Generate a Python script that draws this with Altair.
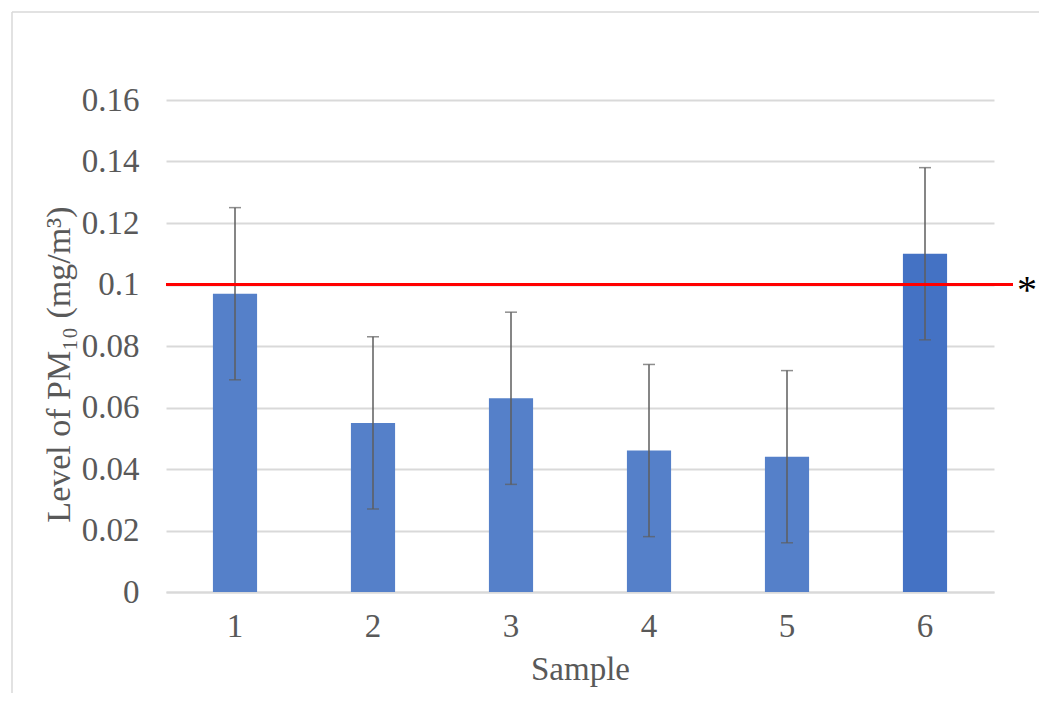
import altair as alt
import pandas as pd

samples = ["1", "2", "3", "4", "5", "6"]
pm10 = [0.097, 0.055, 0.063, 0.046, 0.044, 0.110]
err_low = [0.069, 0.027, 0.035, 0.018, 0.016, 0.082]
err_high = [0.125, 0.083, 0.091, 0.074, 0.072, 0.138]
bar_colors = ["#5580C9", "#5580C9", "#5580C9", "#5580C9", "#5580C9", "#4472C4"]
y_ticks = [0, 0.02, 0.04, 0.06, 0.08, 0.10, 0.12, 0.14, 0.16]
threshold = [0.1]
marker = ["*"]

df = pd.DataFrame({"sample": samples, "pm10": pm10, "lo": err_low,
                   "hi": err_high, "color": bar_colors})
thr = pd.DataFrame({"limit": threshold, "label": marker})

FONT = "Liberation Serif"
W, H = 828, 492

x = alt.X("sample:N", sort=samples,
          scale=alt.Scale(paddingInner=0.68, paddingOuter=0.34),
          axis=alt.Axis(title="Sample", labelAngle=0, ticks=False,
                        labelPadding=18, titlePadding=10,
                        domainColor="#D9D9D9", domainWidth=2))
y_scale = alt.Scale(domain=[0, 0.16], nice=False)

bars = alt.Chart(df).mark_bar().encode(
    x=x,
    y=alt.Y("pm10:Q", scale=y_scale,
            axis=alt.Axis(title="Level of PM₁₀ (mg/m³)", values=y_ticks,
                          format=".2~f", ticks=False, domain=False,
                          labelPadding=27, titlePadding=5, titleY=264,
                          titleFontSize=34,
                          gridColor="#D9D9D9", gridWidth=2)),
    color=alt.Color("color:N", scale=None),
)

rules = alt.Chart(df).mark_rule(color="#5E5E5E", strokeWidth=1.5).encode(
    x=alt.X("sample:N", sort=samples), y=alt.Y("lo:Q", scale=y_scale), y2="hi:Q")
cap_lo = alt.Chart(df).mark_tick(color="#5E5E5E", size=12, thickness=1.5).encode(
    x=alt.X("sample:N", sort=samples), y=alt.Y("lo:Q", scale=y_scale))
cap_hi = alt.Chart(df).mark_tick(color="#5E5E5E", size=12, thickness=1.5).encode(
    x=alt.X("sample:N", sort=samples), y=alt.Y("hi:Q", scale=y_scale))

limit_line = alt.Chart(thr).mark_rule(color="#FF0000", strokeWidth=3).encode(
    y=alt.Y("limit:Q", scale=y_scale), x=alt.value(0), x2=alt.value(W + 19))
limit_text = alt.Chart(thr).mark_text(
    font=FONT, fontSize=40, color="#000000", align="left", baseline="middle", dy=6
).encode(y=alt.Y("limit:Q", scale=y_scale), x=alt.value(W + 23), text="label:N")

border_top = alt.Chart(thr).mark_rule(color="#D9D9D9", strokeWidth=1.5).encode(
    x=alt.value(-154), x2=alt.value(W + 80), y=alt.value(-88))
border_left = alt.Chart(thr).mark_rule(color="#D9D9D9", strokeWidth=1.5).encode(
    x=alt.value(-154), y=alt.value(-88), y2=alt.value(H + 120))

chart = alt.layer(border_top, border_left, bars, rules, cap_lo, cap_hi,
                  limit_line, limit_text).properties(
    width=W, height=H,
    background="white",
    autosize=alt.AutoSizeParams(type="none"),
    padding={"left": 158, "top": 92, "right": 45, "bottom": 101},
).configure_view(stroke=None).configure_axis(
    labelFont=FONT, titleFont=FONT, labelFontSize=33, titleFontSize=33,
    labelColor="#595959", titleColor="#595959", titleFontWeight="normal",
)

chart.save("out.html", embed_options={"renderer": "svg", "actions": False})
